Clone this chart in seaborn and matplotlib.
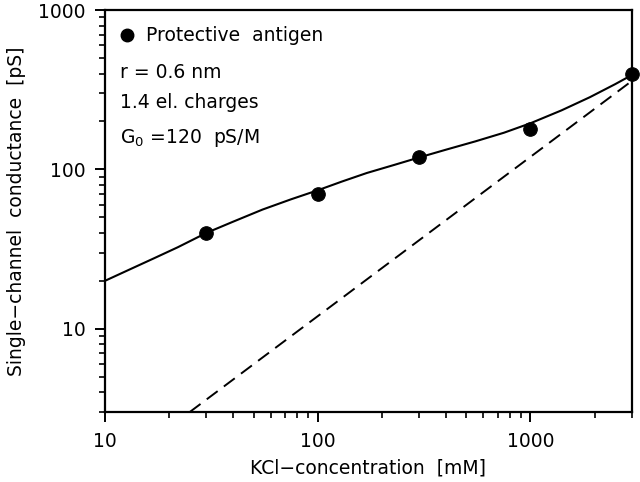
import numpy as np
import pandas as pd
import seaborn as sns
import matplotlib.pyplot as plt
from matplotlib.ticker import LogLocator, NullFormatter, FixedLocator, FixedFormatter

# measured points
conc = [30, 100, 300, 1000, 3000]
cond = [40, 70, 120, 180, 400]

# fit curve
fit_conc = [10, 13, 17, 22, 30, 40, 55, 75, 100, 130, 170, 230, 300, 400, 550, 750, 1000, 1400, 1900, 2500, 3000]
fit_cond = [20, 23.5, 27.7, 32.5, 40, 47, 56, 65, 74, 84, 95, 107, 119, 133, 150, 170, 195, 235, 284, 343, 392]

# bulk conductance G0 * c
bulk_conc = [25, 3000]
bulk_cond = [3, 360]

sns.set_style('ticks')
plt.rcParams['font.family'] = ['DejaVu Sans']
plt.rcParams['text.color'] = 'black'
plt.rcParams['axes.labelcolor'] = 'black'

fig, ax = plt.subplots(figsize=(6.4, 4.82), dpi=100)
fig.subplots_adjust(left=0.164, right=0.9875, top=0.979, bottom=0.145)

fit_df = pd.DataFrame({'c': fit_conc, 'g': fit_cond})
bulk_df = pd.DataFrame({'c': bulk_conc, 'g': bulk_cond})
pts_df = pd.DataFrame({'c': conc, 'g': cond})

sns.lineplot(data=fit_df, x='c', y='g', color='black', lw=1.5, ax=ax, sort=False)
sns.lineplot(data=bulk_df, x='c', y='g', color='black', lw=1.4, ax=ax,
             dashes=False, linestyle=(0, (7, 4)))
sns.scatterplot(data=pts_df, x='c', y='g', color='black', s=95, edgecolor='black',
                ax=ax, zorder=5, clip_on=False)

ax.set_xscale('log')
ax.set_yscale('log')
ax.set_xlim(10, 3000)
ax.set_ylim(3, 1000)

ax.xaxis.set_major_locator(FixedLocator([10, 100, 1000]))
ax.xaxis.set_major_formatter(FixedFormatter(['10', '100', '1000']))
ax.xaxis.set_minor_locator(LogLocator(base=10, subs=np.arange(2, 10)))
ax.xaxis.set_minor_formatter(NullFormatter())
ax.yaxis.set_major_locator(FixedLocator([10, 100, 1000]))
ax.yaxis.set_major_formatter(FixedFormatter(['10', '100', '1000']))
ax.yaxis.set_minor_locator(LogLocator(base=10, subs=np.arange(2, 10)))
ax.yaxis.set_minor_formatter(NullFormatter())

for s in ax.spines.values():
    s.set_linewidth(1.6)
    s.set_color('black')
ax.tick_params(which='major', length=7, width=1.4, labelsize=13.5, pad=7,
               colors='black', labelcolor='black')
ax.tick_params(which='minor', length=4, width=1.2, colors='black')

ax.set_xlabel('KCl\u2212concentration  [mM]', fontsize=13.5, labelpad=6)
ax.set_ylabel('Single\u2212channel  conductance  [pS]', fontsize=13.5, labelpad=9)

ax.plot([0.042], [0.938], 'o', color='black', ms=9, transform=ax.transAxes)
ax.text(0.078, 0.938, 'Protective  antigen', transform=ax.transAxes,
        fontsize=13.5, va='center', ha='left')
ax.text(0.0285, 0.846, 'r = 0.6 nm', transform=ax.transAxes, fontsize=13.5, va='center')
ax.text(0.0285, 0.769, '1.4 el. charges', transform=ax.transAxes, fontsize=13.5, va='center')
ax.text(0.0285, 0.682, r'G$_0$ =120  pS/M', transform=ax.transAxes, fontsize=13.5, va='center')

fig.savefig('out.png', dpi=100)
